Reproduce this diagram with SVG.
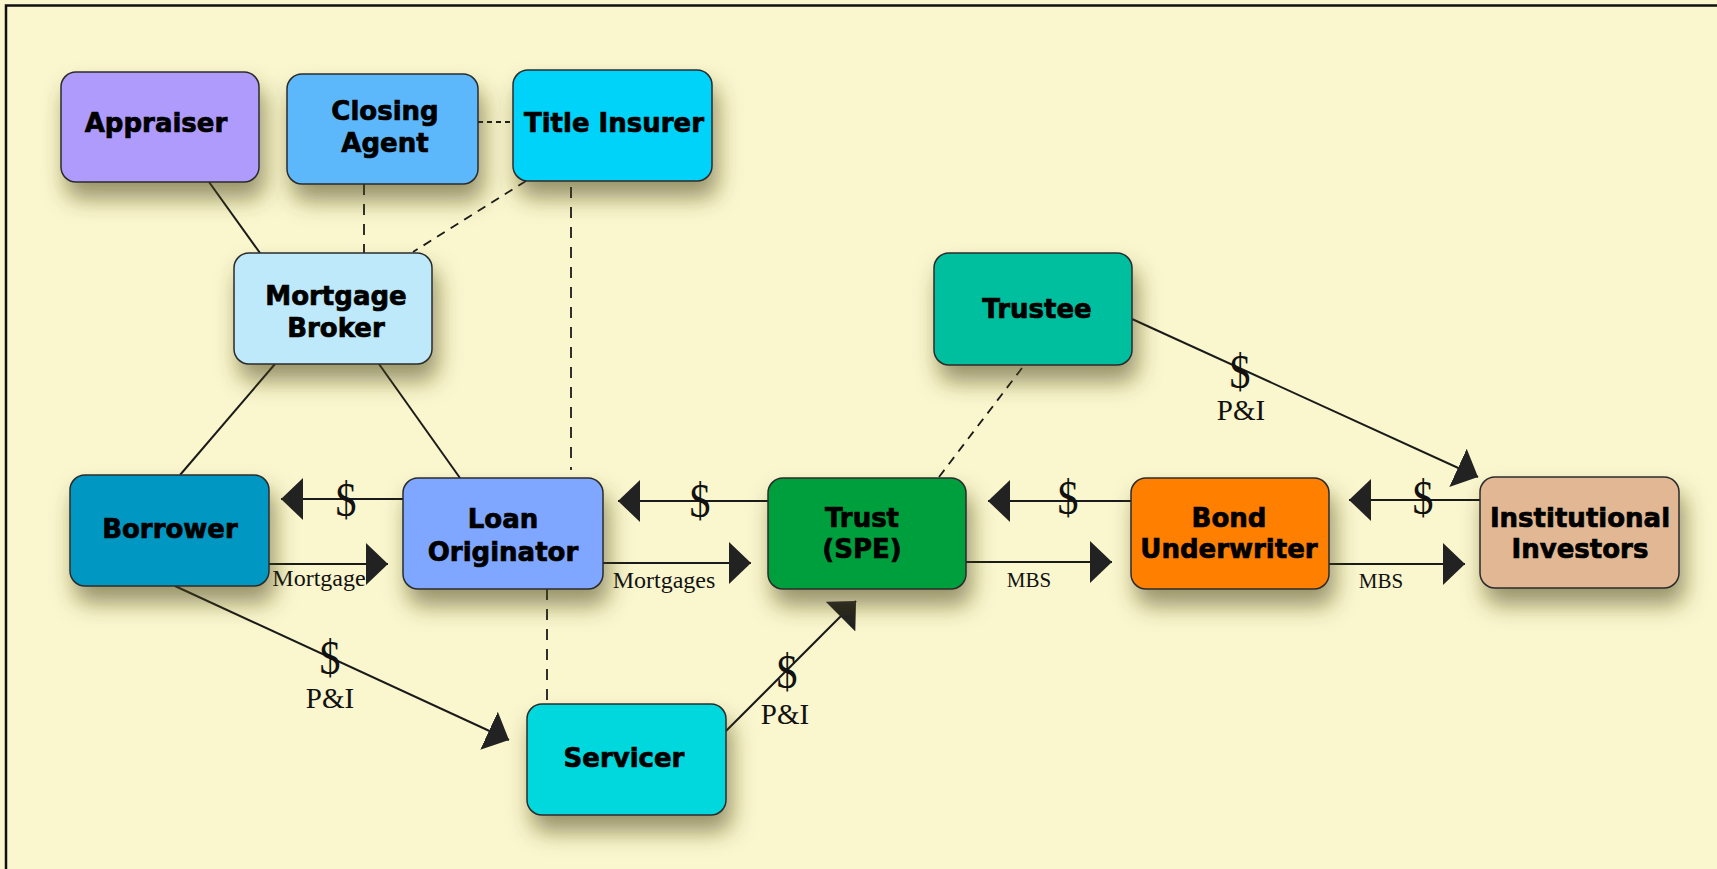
<svg xmlns="http://www.w3.org/2000/svg" width="1717" height="869" viewBox="0 0 1717 869">
<defs>
<filter id="sh" x="-30%" y="-30%" width="170%" height="190%">
<feDropShadow dx="5" dy="16" stdDeviation="11" flood-color="#4a4218" flood-opacity="0.55"/>
</filter>
<marker id="ah" viewBox="0 0 22 42" refX="22" refY="21" markerWidth="22" markerHeight="42" markerUnits="userSpaceOnUse" orient="auto">
<path d="M0,0 L22,21 L0,42 Z" fill="#222"/>
</marker>
</defs>
<style>
.box{stroke:#2b2b2b;stroke-width:1.5;filter:url(#sh)}
.lbl{font-family:"DejaVu Sans","Liberation Sans",sans-serif;font-weight:bold;font-size:26px;fill:#000;stroke:#000;stroke-width:0.7;text-anchor:middle}
.ser{font-family:"Liberation Serif","Times New Roman",serif;fill:#111;text-anchor:middle}
.dol{font-size:42px}
.pi{font-size:29px}
.flow{font-size:24px}
.sm{font-size:21px}
.ln{stroke:#1a1a1a;stroke-width:2;fill:none}
.ds{stroke:#1a1a1a;stroke-width:1.8;fill:none;stroke-dasharray:11 9}
.dd{stroke:#1a1a1a;stroke-width:1.8;fill:none;stroke-dasharray:9 7}
.ar{stroke:#1a1a1a;stroke-width:2;fill:none;marker-end:url(#ah)}
</style>
<rect x="0" y="0" width="1717" height="869" fill="#FAF6CD"/>
<rect x="6" y="5.5" width="1760" height="900" fill="none" stroke="#111" stroke-width="2.5"/>

<g id="connectors">
<line class="ln" x1="209" y1="182" x2="260" y2="253"/>
<line class="ln" x1="275" y1="364" x2="180" y2="475"/>
<line class="ln" x1="379" y1="364" x2="460" y2="478"/>
<line class="ds" x1="364" y1="184" x2="364" y2="253"/>
<line class="ds" x1="478" y1="122" x2="513" y2="122" style="stroke-dasharray:5 4"/>
<line class="dd" x1="526" y1="181" x2="413" y2="252"/>
<line class="ds" x1="571" y1="187" x2="571" y2="470"/>
<line class="ds" x1="547" y1="589" x2="547" y2="704"/>
<line class="dd" x1="1022" y1="368" x2="939" y2="477"/>

<line class="ar" x1="403" y1="499" x2="281" y2="499"/>
<line class="ar" x1="269" y1="564" x2="388" y2="564"/>
<line class="ar" x1="768" y1="501" x2="618" y2="501"/>
<line class="ar" x1="603" y1="563" x2="751" y2="563"/>
<line class="ar" x1="1131" y1="501" x2="988" y2="501"/>
<line class="ar" x1="966" y1="562" x2="1112" y2="562"/>
<line class="ar" x1="1480" y1="500" x2="1349" y2="500"/>
<line class="ar" x1="1329" y1="564" x2="1465" y2="564"/>
<line class="ar" x1="175" y1="586" x2="509" y2="740"/>
<line class="ar" x1="726" y1="731" x2="856" y2="601"/>
<line class="ar" x1="1132" y1="319" x2="1478" y2="477"/>

<text class="ser dol" transform="translate(346,516) scale(1,1.15)">$</text>
<text class="ser flow" x="319" y="586">Mortgage</text>
<text class="ser dol" transform="translate(700,517) scale(1,1.15)">$</text>
<text class="ser flow" x="664" y="588">Mortgages</text>
<text class="ser dol" transform="translate(1068,514) scale(1,1.15)">$</text>
<text class="ser sm" x="1029" y="587">MBS</text>
<text class="ser dol" transform="translate(1423,514) scale(1,1.15)">$</text>
<text class="ser sm" x="1381" y="588">MBS</text>
<text class="ser dol" transform="translate(330,674) scale(1,1.15)">$</text>
<text class="ser pi" x="330" y="708">P&amp;I</text>
<text class="ser dol" transform="translate(787,688) scale(1,1.15)">$</text>
<text class="ser pi" x="785" y="724">P&amp;I</text>
<text class="ser dol" transform="translate(1240,388) scale(1,1.15)">$</text>
<text class="ser pi" x="1241" y="420">P&amp;I</text>
</g>

<g id="appraiser"><rect class="box" x="61" y="72" width="198" height="110" rx="15" fill="#AF9BFB"/><text class="lbl" x="156" y="132">Appraiser</text></g>
<g id="closing-agent"><rect class="box" x="287" y="74" width="191" height="110" rx="15" fill="#5DB8FB"/><text class="lbl" x="385" y="120">Closing</text><text class="lbl" x="385" y="152">Agent</text></g>
<g id="title-insurer"><rect class="box" x="513" y="70" width="199" height="111" rx="15" fill="#00D3FA"/><text class="lbl" x="614" y="132">Title Insurer</text></g>
<g id="mortgage-broker"><rect class="box" x="234" y="253" width="198" height="111" rx="15" fill="#BEE9FA"/><text class="lbl" x="336" y="305">Mortgage</text><text class="lbl" x="336" y="337">Broker</text></g>
<g id="borrower"><rect class="box" x="70" y="475" width="199" height="111" rx="15" fill="#0098C3"/><text class="lbl" x="170" y="538">Borrower</text></g>
<g id="loan-originator"><rect class="box" x="403" y="478" width="200" height="111" rx="15" fill="#80A7FF"/><text class="lbl" x="503" y="528">Loan</text><text class="lbl" x="503" y="561">Originator</text></g>
<g id="servicer"><rect class="box" x="527" y="704" width="199" height="111" rx="15" fill="#00D8DD"/><text class="lbl" x="624" y="767">Servicer</text></g>
<g id="trustee"><rect class="box" x="934" y="253" width="198" height="112" rx="15" fill="#00BF9E"/><text class="lbl" x="1037" y="318">Trustee</text></g>
<g id="trust-spe"><rect class="box" x="768" y="478" width="198" height="111" rx="15" fill="#009F3C"/><text class="lbl" x="862" y="527">Trust</text><text class="lbl" x="862" y="558">(SPE)</text></g>
<g id="bond-underwriter"><rect class="box" x="1131" y="478" width="198" height="111" rx="15" fill="#FF8000"/><text class="lbl" x="1229" y="527">Bond</text><text class="lbl" x="1229" y="558">Underwriter</text></g>
<g id="institutional-investors"><rect class="box" x="1480" y="477" width="199" height="111" rx="15" fill="#E1B893"/><text class="lbl" x="1580" y="527">Institutional</text><text class="lbl" x="1580" y="558">Investors</text></g>
</svg>
